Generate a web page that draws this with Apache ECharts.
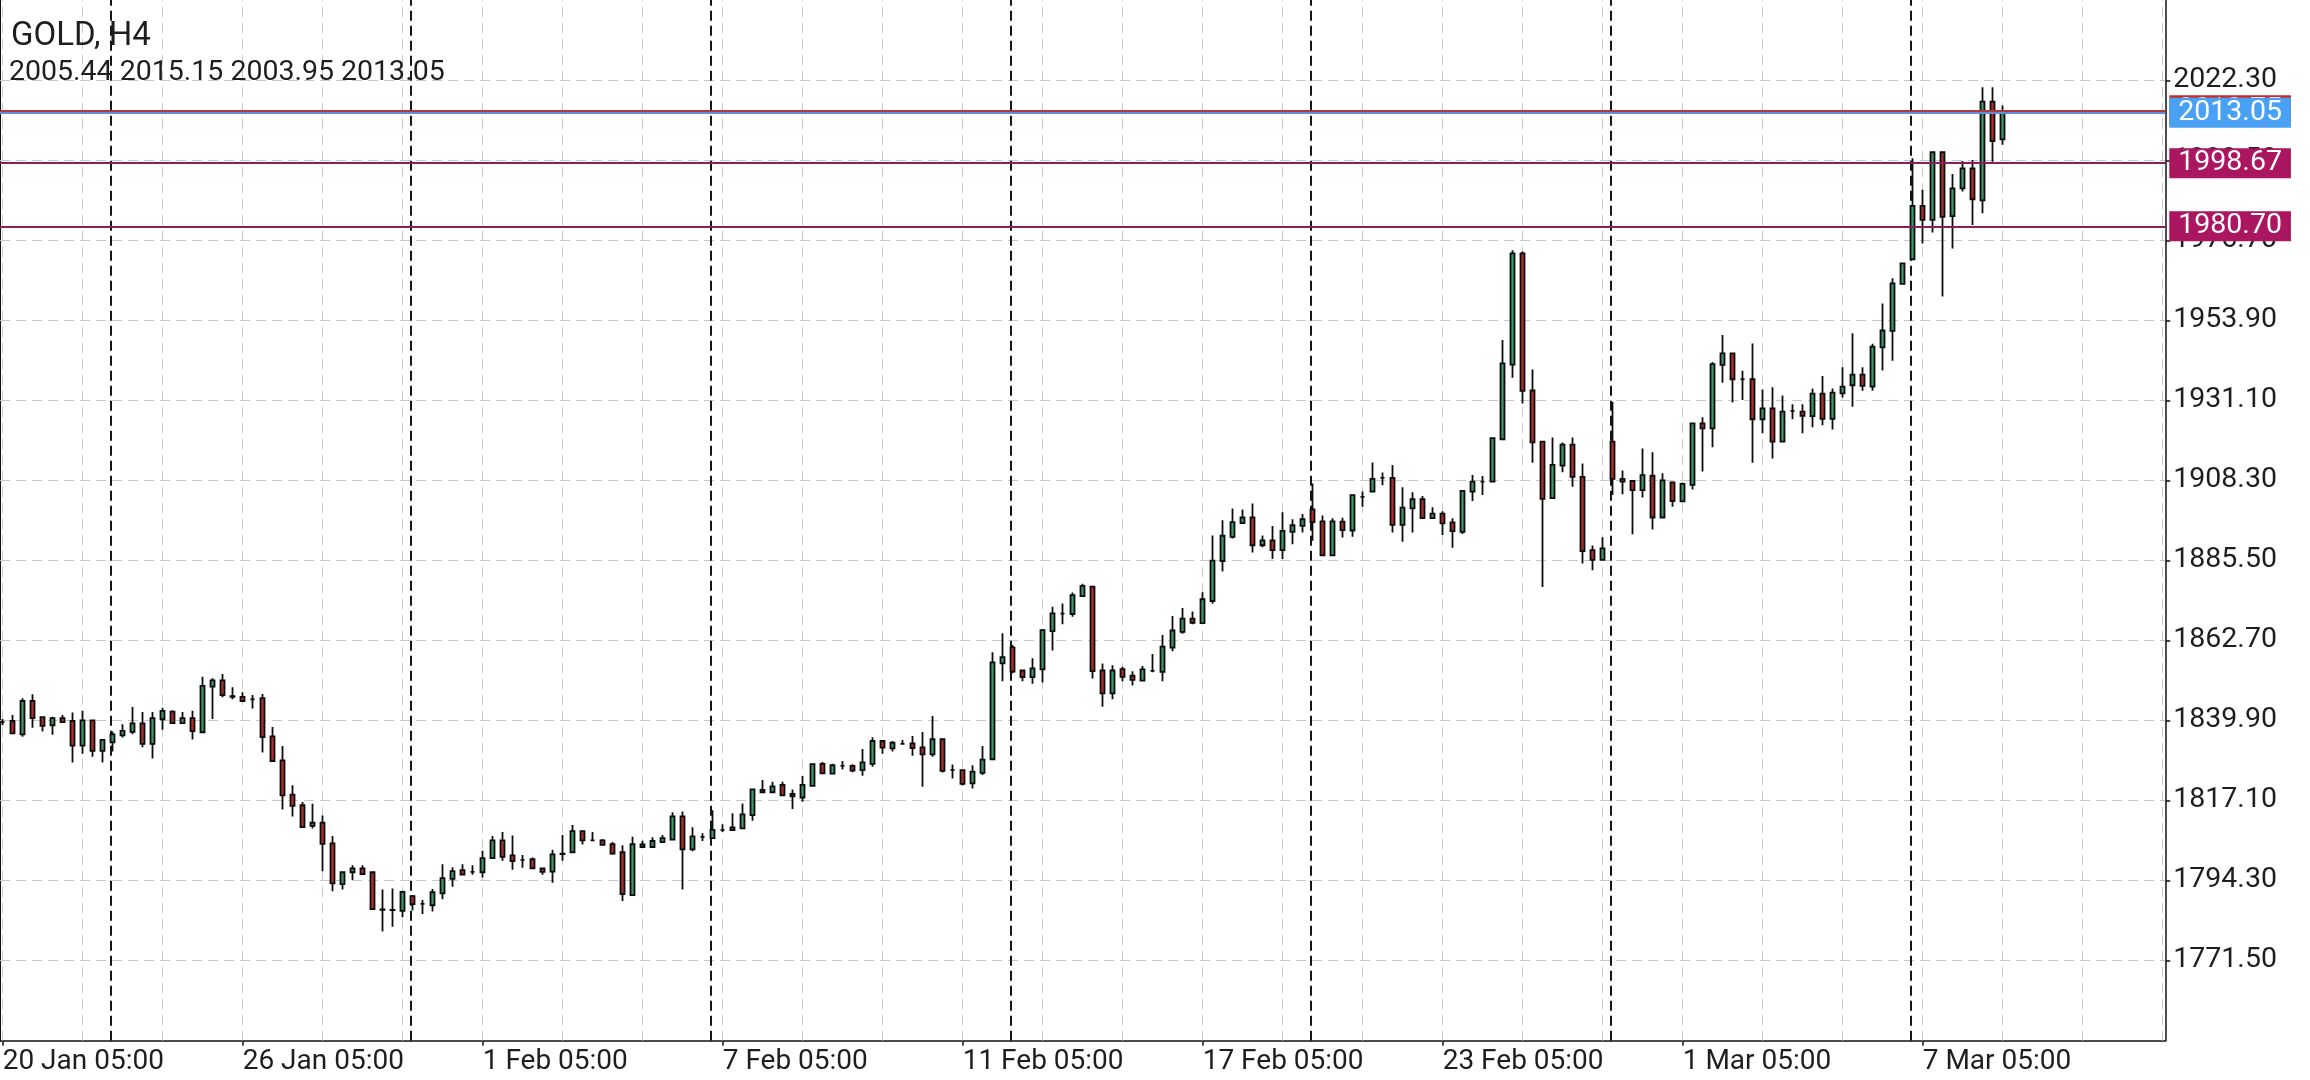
<!DOCTYPE html>
<html>
<head>
<meta charset="utf-8">
<script src="https://cdn.jsdelivr.net/npm/echarts@6/dist/echarts.min.js"></script>
<style>
html,body{margin:0;padding:0;background:#ffffff;}
#chart{width:2310px;height:1080px;}
</style>
</head>
<body>
<div id="chart"></div>
<script>
// ---------- data ----------
const symbolTitle = 'GOLD, H4';
const lastBar = [2005.44, 2015.15, 2003.95, 2013.05]; // O H L C of last bar

const timeLabels = ['20 Jan 05:00','26 Jan 05:00','1 Feb 05:00','7 Feb 05:00','11 Feb 05:00','17 Feb 05:00','23 Feb 05:00','1 Mar 05:00','7 Mar 05:00'];
const timeLabelIndex = [0, 24, 48, 72, 96, 120, 144, 168, 192];

const priceTicks = [1771.50, 1794.30, 1817.10, 1839.90, 1862.70, 1885.50, 1908.30, 1931.10, 1953.90, 1976.70, 1999.50, 2022.30];

const gridIndex = [0, 8, 16, 24, 32, 40, 48, 56, 64, 72, 80, 88, 96, 104, 112, 120, 128, 136, 144, 152, 160, 168, 176, 184, 192, 200, 208, 216];
const separatorIndex = [10.83, 40.83, 70.83, 100.83, 130.83, 160.83, 190.83];

const levelLines = [1998.67, 1980.70];
const bidPrice = 2013.05;
const askPrice = 2013.75;

const opens = [
1839.4,1839.7,1835.9,1845.4,1840.8,1838.5,1840.5,1839.7,1832.7,1839.9,
1831.2,1833.6,1835.6,1836.6,1839.0,1833.2,1840.2,1842.4,1839.1,1840.5,
1836.5,1849.5,1851.3,1846.8,1846.6,1845.9,1846.2,1835.3,1828.5,1818.7,
1815.7,1809.8,1810.7,1804.8,1793.2,1796.6,1797.7,1796.6,1786.0,1785.9,
1785.6,1789.8,1787.6,1787.2,1790.6,1794.7,1797.2,1796.7,1796.6,1800.6,
1805.7,1801.4,1800.1,1800.3,1797.7,1796.8,1801.9,1802.3,1808.3,1805.7,
1805.7,1804.6,1802.3,1790.1,1803.8,1803.8,1805.2,1805.9,1812.5,1803.1,
1806.7,1806.3,1808.7,1809.4,1809.1,1812.9,1820.1,1819.4,1821.5,1818.9,
1817.9,1821.2,1827.5,1824.7,1826.9,1826.9,1825.7,1827.5,1834.0,1831.9,
1833.2,1833.3,1832.2,1830.2,1834.5,1825.8,1825.7,1821.9,1824.9,1828.8,
1856.1,1860.7,1854.1,1852.2,1854.4,1865.3,1870.3,1870.2,1875.3,1878.0,
1854.1,1847.6,1854.5,1852.6,1851.2,1854.0,1853.7,1860.6,1865.1,1868.9,
1867.6,1873.9,1885.3,1892.2,1896.1,1897.7,1889.8,1891.2,1888.4,1893.6,
1895.3,1900.0,1896.6,1886.9,1896.5,1894.0,1903.6,1905.1,1909.0,1909.0,
1895.6,1900.3,1902.9,1897.5,1898.8,1896.3,1893.6,1905.1,1907.9,1907.9,
1920.0,1941.3,1973.0,1933.9,1919.3,1903.2,1912.5,1918.5,1909.3,1888.4,
1885.6,1919.3,1908.7,1908.1,1905.5,1909.6,1897.7,1907.7,1902.3,1907.0,
1924.5,1923.1,1941.2,1944.5,1937.1,1937.1,1925.7,1928.8,1919.3,1928.1,
1927.9,1926.6,1933.0,1925.8,1933.1,1935.4,1938.4,1935.0,1946.2,1950.9,
1964.3,1971.3,1986.5,1982.5,2001.8,1983.6,1991.5,1997.2,1988.1,2016.2,
2005.44
];
const highs = [
1840.3,1841.4,1846.2,1847.3,1840.9,1840.9,1841.4,1842.1,1842.6,1839.9,
1834.6,1836.7,1838.8,1843.7,1842.3,1842.3,1843.5,1842.8,1842.3,1842.6,
1852.3,1851.9,1853.1,1849.3,1847.9,1847.1,1847.4,1838.0,1832.6,1821.4,
1816.6,1816.1,1812.8,1806.9,1796.6,1798.6,1798.6,1796.9,1791.7,1792.0,
1791.3,1790.1,1788.7,1791.8,1798.9,1798.0,1798.9,1798.6,1802.7,1806.9,
1808.1,1807.1,1801.5,1800.8,1797.9,1803.0,1807.2,1810.1,1808.3,1808.1,
1806.1,1805.2,1804.3,1806.7,1805.6,1806.6,1807.2,1813.7,1813.9,1809.4,
1807.7,1814.3,1810.3,1813.4,1816.2,1820.2,1822.9,1822.4,1822.4,1820.2,
1824.0,1827.4,1828.0,1827.5,1828.3,1827.4,1831.7,1835.1,1834.0,1834.0,
1834.3,1835.4,1836.6,1841.1,1834.5,1827.3,1825.9,1827.1,1832.6,1859.3,
1864.7,1861.4,1854.1,1857.6,1865.9,1872.3,1873.2,1876.3,1878.8,1878.2,
1856.1,1855.6,1855.2,1853.9,1855.4,1858.8,1864.2,1869.6,1871.9,1870.9,
1876.4,1892.6,1896.9,1900.3,1900.0,1901.7,1892.6,1895.3,1899.2,1897.2,
1898.7,1907.4,1898.3,1897.5,1897.6,1904.3,1905.1,1913.4,1910.5,1912.7,
1906.3,1904.9,1903.8,1900.6,1899.5,1897.5,1905.5,1909.8,1909.5,1920.3,
1948.3,1973.9,1973.5,1939.9,1919.6,1920.5,1919.1,1920.5,1913.1,1889.7,
1892.1,1930.7,1911.1,1908.3,1917.4,1916.3,1910.3,1907.9,1907.7,1924.5,
1926.3,1942.0,1949.7,1944.7,1939.5,1947.3,1934.2,1934.8,1932.5,1930.0,
1930.0,1934.5,1938.0,1934.5,1940.5,1950.2,1940.5,1947.2,1958.7,1965.9,
1970.1,2000.1,1991.1,2001.8,2001.8,1995.6,1999.3,1999.6,2020.3,2020.3,
2015.15
];
const lows = [
1838.5,1836.2,1835.2,1837.8,1836.7,1835.8,1839.4,1827.9,1830.4,1829.5,
1827.9,1831.0,1835.0,1835.9,1832.2,1829.0,1837.2,1839.1,1839.1,1834.4,
1836.5,1840.3,1846.5,1845.9,1845.4,1843.3,1830.7,1828.3,1814.5,1812.5,
1809.5,1809.1,1796.9,1791.2,1791.7,1794.4,1796.1,1786.1,1779.7,1781.1,
1783.8,1785.7,1784.7,1785.4,1788.9,1792.5,1795.7,1795.9,1795.1,1800.6,
1799.9,1797.3,1797.9,1797.7,1795.9,1793.6,1799.9,1802.3,1804.5,1805.5,
1804.3,1801.6,1788.4,1789.8,1803.7,1803.8,1805.2,1805.9,1791.7,1802.6,
1805.5,1806.3,1808.1,1808.5,1809.1,1811.3,1819.4,1819.4,1818.5,1814.6,
1816.7,1821.2,1824.8,1824.7,1825.9,1825.1,1824.1,1826.7,1830.4,1831.0,
1833.2,1829.8,1821.0,1829.5,1825.0,1823.3,1821.3,1820.5,1824.3,1828.8,
1851.0,1853.3,1851.0,1850.3,1850.7,1859.8,1867.3,1869.4,1875.3,1851.8,
1843.8,1845.9,1851.0,1849.8,1851.2,1853.6,1851.0,1859.6,1864.6,1867.3,
1867.6,1873.1,1882.3,1891.7,1896.1,1887.7,1889.2,1885.9,1885.9,1890.1,
1893.4,1891.1,1886.9,1886.9,1892.0,1892.2,1900.8,1904.9,1906.9,1893.4,
1890.8,1893.4,1897.3,1897.5,1892.7,1889.1,1893.0,1902.4,1904.1,1907.9,
1920.0,1937.5,1930.2,1913.3,1877.9,1903.2,1910.6,1906.5,1884.6,1882.7,
1885.6,1904.1,1904.3,1892.9,1903.4,1894.3,1897.5,1900.8,1902.3,1905.7,
1910.8,1917.7,1936.1,1930.5,1931.2,1913.3,1921.7,1914.5,1919.3,1925.7,
1921.7,1923.4,1924.0,1922.8,1931.9,1929.3,1933.8,1933.8,1939.6,1942.4,
1964.3,1971.3,1975.8,1978.9,1960.7,1974.4,1990.6,1981.1,1984.4,1999.1,
2003.95
];
const closes = [
1839.4,1836.2,1845.4,1840.5,1838.3,1840.5,1839.4,1832.7,1839.9,1831.2,
1834.3,1835.9,1836.9,1839.0,1833.2,1840.5,1842.6,1839.1,1840.5,1836.8,
1849.7,1851.3,1847.1,1846.6,1845.4,1845.9,1835.1,1828.3,1818.5,1815.5,
1809.5,1810.7,1804.7,1793.4,1796.6,1797.7,1796.1,1786.1,1785.9,1785.8,
1791.0,1787.5,1787.6,1790.9,1794.9,1796.9,1795.9,1796.7,1800.6,1805.7,
1801.0,1799.8,1800.1,1797.7,1796.7,1801.7,1801.8,1808.3,1805.7,1805.7,
1804.4,1801.9,1790.4,1804.6,1804.5,1805.5,1806.3,1812.5,1803.1,1806.8,
1806.7,1808.7,1808.7,1808.6,1813.1,1820.2,1819.4,1821.1,1818.5,1818.2,
1821.5,1827.4,1824.8,1827.1,1826.9,1825.6,1827.9,1834.0,1832.1,1833.5,
1833.2,1832.0,1830.2,1834.5,1825.5,1825.8,1821.8,1825.3,1828.7,1856.4,
1857.9,1853.8,1852.2,1854.7,1865.6,1870.4,1870.3,1875.6,1878.2,1853.9,
1847.6,1854.1,1852.3,1851.4,1854.4,1854.0,1860.9,1865.5,1868.9,1867.7,
1874.4,1885.4,1892.5,1896.4,1897.7,1889.8,1891.2,1888.4,1893.9,1895.5,
1897.2,1896.4,1886.9,1896.6,1894.1,1904.1,1903.6,1908.7,1909.0,1895.6,
1900.5,1902.9,1897.5,1898.8,1896.0,1893.8,1905.3,1907.9,1907.9,1920.3,
1941.6,1973.0,1933.8,1919.1,1903.0,1912.7,1918.5,1909.3,1888.1,1885.6,
1888.9,1908.7,1907.9,1905.5,1909.8,1897.7,1908.3,1902.4,1907.3,1924.5,
1923.1,1941.4,1944.5,1937.1,1937.1,1925.7,1928.8,1919.3,1927.9,1928.1,
1926.7,1933.0,1925.8,1933.3,1935.0,1938.4,1935.2,1946.4,1951.0,1964.4,
1970.1,1986.5,1982.5,2001.8,1983.4,1991.5,1997.2,1988.4,2016.2,2005.0,
2013.05
];

// ---------- chart ----------
const FONT = 'Roboto';
const TEXT = '#1e1e1e';
const candleData = opens.map((o, i) => [i, o, closes[i], lows[i], highs[i]]);

const gridLineStyle = {color: '#c9c9c9', width: 1, type: [10, 6]};
const sepLineStyle = {color: '#161616', width: 2, type: [10, 5]};

const gridMarks = []
  .concat(gridIndex.map(v => ({xAxis: v, lineStyle: gridLineStyle})))
  .concat(priceTicks.map(v => ({yAxis: v, lineStyle: gridLineStyle})))
  .concat(separatorIndex.map(v => ({xAxis: v, lineStyle: sepLineStyle})));

function tag(bg) {
  return {
    show: true, position: 'end', distance: 4,
    formatter: p => Number(p.value).toFixed(2),
    backgroundColor: bg, color: '#ffffff',
    padding: [2, 9, 2, 9], fontSize: 28.5, lineHeight: 26, fontFamily: FONT
  };
}

const priceMarks = [
  {yAxis: askPrice, lineStyle: {color: '#b0393a', width: 2, type: 'solid'}, label: tag('#c22f2b')},
  {yAxis: bidPrice, lineStyle: {color: '#5d8fdd', width: 2, type: 'solid'}, label: tag('#4aa0f2')},
  {yAxis: levelLines[0], lineStyle: {color: '#8a1d5c', width: 2, type: 'solid'}, label: tag('#aa165f')},
  {yAxis: levelLines[1], lineStyle: {color: '#8a1d5c', width: 2, type: 'solid'}, label: tag('#aa165f')}
];

const chart = echarts.init(document.getElementById('chart'), null, {renderer: 'canvas'});
chart.setOption({
  animation: false,
  backgroundColor: '#ffffff',
  title: [
    {text: symbolTitle, left: 11, top: 20, padding: 0,
     textStyle: {fontFamily: FONT, fontSize: 33, fontWeight: 'normal', color: TEXT}},
    {text: lastBar.map(v => v.toFixed(2)).join(' '), left: 9, top: 58, padding: 0,
     textStyle: {fontFamily: FONT, fontSize: 28.5, fontWeight: 'normal', color: TEXT}}
  ],
  grid: {left: 0, right: 144.7, top: 0, bottom: 39.3, containLabel: false, outerBoundsMode: 'none'},
  xAxis: {
    type: 'value', min: -0.27, max: 216.26,
    axisLine: {show: true, onZero: false, lineStyle: {color: '#111', width: 1.5}},
    axisTick: {show: true, customValues: timeLabelIndex, length: 5, lineStyle: {color: '#111', width: 1.5}},
    axisLabel: {show: true, customValues: timeLabelIndex,
      formatter: v => timeLabels[timeLabelIndex.indexOf(Math.round(v))],
      align: 'left', margin: 7, fontFamily: FONT, fontSize: 28, color: TEXT},
    splitLine: {show: false}
  },
  yAxis: [
    {
      type: 'value', position: 'right', min: 1748.59, max: 2045.19,
      axisLine: {show: true, onZero: false, lineStyle: {color: '#111', width: 1.5}},
      axisTick: {show: true, customValues: priceTicks, length: 5, lineStyle: {color: '#111', width: 1.5}},
      axisLabel: {show: true, customValues: priceTicks, formatter: v => Number(v).toFixed(2),
        margin: 8, padding: [4, 0, 0, 0], fontFamily: FONT, fontSize: 28.5, color: TEXT},
      splitLine: {show: false}
    },
    {
      type: 'value', position: 'left', min: 1748.59, max: 2045.19,
      axisLine: {show: true, onZero: false, lineStyle: {color: '#111', width: 2}},
      axisTick: {show: false}, axisLabel: {show: false}, splitLine: {show: false}
    }
  ],
  series: [
    {
      name: 'grid', type: 'line', data: [], silent: true, z: 1,
      markLine: {silent: true, z: 1, symbol: ['none', 'none'], animation: false,
        label: {show: false}, emphasis: {disabled: true}, data: gridMarks}
    },
    {
      name: 'GOLD', type: 'candlestick', silent: true, z: 2,
      dimensions: ['idx', 'open', 'close', 'lowest', 'highest'],
      encode: {x: 'idx', y: ['open', 'close', 'lowest', 'highest']},
      data: candleData,
      barWidth: 4.5,
      itemStyle: {color: '#3f9a6c', color0: '#b1302a', borderColor: '#0d0d0d', borderColor0: '#0d0d0d',
        borderColorDoji: '#0d0d0d', borderWidth: 1.8},
      markLine: {silent: true, z: 5, symbol: ['none', 'none'], animation: false,
        emphasis: {disabled: true}, data: priceMarks}
    }
  ]
});
</script>
</body>
</html>
